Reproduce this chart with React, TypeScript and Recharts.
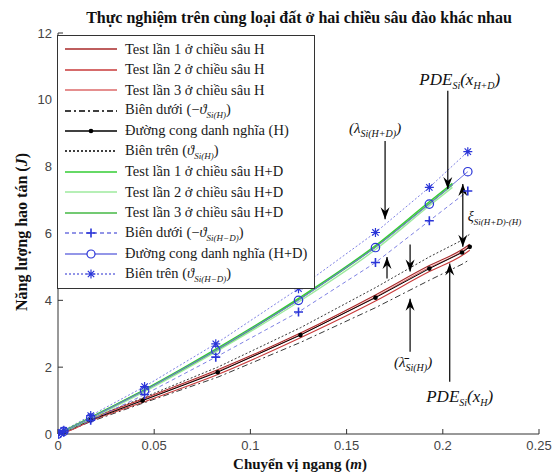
import React from 'react';
import { LineChart, Line, XAxis, YAxis, ReferenceLine } from 'recharts';

// shared x positions of the measured points
const xH = [0, 0.003, 0.017, 0.044, 0.083, 0.126, 0.165, 0.193, 0.21, 0.214];
const nomH = [0, 0.05, 0.42, 1.0, 1.85, 2.96, 4.08, 4.95, 5.43, 5.6];
const upH = [0, 0.07, 0.47, 1.08, 2.0, 3.18, 4.38, 5.3, 5.8, 5.98];
const lowH = [0, 0.03, 0.37, 0.92, 1.7, 2.74, 3.78, 4.6, 5.08, 5.22];
const test1H = [0, 0.06, 0.45, 1.05, 1.92, 3.02, 4.16, 5.04, 5.52, 5.68];
const test2H = [0, 0.04, 0.39, 0.95, 1.78, 2.88, 3.98, 4.86, 5.34, 5.5];
const test3H = [0, 0.05, 0.43, 1.02, 1.88, 2.98, 4.1, 4.98, 5.46, 5.62];

const xHD = [0, 0.003, 0.017, 0.045, 0.082, 0.125, 0.165, 0.193, 0.213];
const nomHD = [0, 0.08, 0.48, 1.3, 2.5, 4.0, 5.58, 6.88, 7.85];
const upHD = [0, 0.11, 0.55, 1.42, 2.7, 4.35, 6.03, 7.38, 8.45];
const lowHD = [0, 0.05, 0.41, 1.18, 2.3, 3.65, 5.13, 6.38, 7.27];
const xTestHD = [0, 0.003, 0.017, 0.045, 0.082, 0.125, 0.165, 0.193, 0.205];
const test1HD = [0, 0.09, 0.5, 1.33, 2.54, 4.06, 5.64, 6.95, 7.5];
const test2HD = [0, 0.07, 0.46, 1.27, 2.46, 3.95, 5.52, 6.83, 7.38];
const test3HD = [0, 0.08, 0.49, 1.31, 2.5, 4.02, 5.6, 6.9, 7.45];

const xTicks = [0, 0.05, 0.1, 0.15, 0.2, 0.25];
const yTicks = [0, 2, 4, 6, 8, 10, 12];

const pts = (xs: number[], ys: number[]) => xs.map((x, i) => ({ x, y: ys[i] }));

const BLUE = '#2a35d8';
const BLUE_LINE = '#6f73e0';

const BlackDot = (p: any) => <circle key={p.index} cx={p.cx} cy={p.cy} r={2.3} fill="#000" />;
const CircleDot = (p: any) => <circle key={p.index} cx={p.cx} cy={p.cy} r={4.2} fill="none" stroke={BLUE} strokeWidth={1.2} />;
const PlusDot = (p: any) => (
  <path key={p.index} d={`M${p.cx - 4.5},${p.cy}h9M${p.cx},${p.cy - 4.5}v9`} stroke={BLUE} strokeWidth={1.6} />
);
const StarDot = (p: any) => (
  <path
    key={p.index}
    d={`M${p.cx - 4.5},${p.cy}h9M${p.cx},${p.cy - 4.5}v9M${p.cx - 3.2},${p.cy - 3.2}l6.4,6.4M${p.cx - 3.2},${p.cy + 3.2}l6.4,-6.4`}
    stroke={BLUE}
    strokeWidth={1.2}
  />
);

const arrowHead = (tx: number, ty: number, fx: number, fy: number) => {
  const a = Math.atan2(ty - fy, tx - fx);
  const L = 12, W = 4.5, N = 8;
  const ux = Math.cos(a), uy = Math.sin(a);
  const px = -uy, py = ux;
  const bx = tx - ux * L, by = ty - uy * L;
  const nx = tx - ux * N, ny = ty - uy * N;
  return (
    <polygon
      points={`${tx},${ty} ${bx + px * W},${by + py * W} ${nx},${ny} ${bx - px * W},${by - py * W}`}
      fill="#000"
    />
  );
};

const arrow = (opts: { both?: boolean; label?: React.ReactNode; dx?: number; dy?: number; anchor?: string; size?: number }) =>
  (p: any) => {
    const { x1, y1, x2, y2 } = p;
    return (
      <g>
        <line x1={x1} y1={y1} x2={x2} y2={y2} stroke="#000" strokeWidth={1.2} />
        {arrowHead(x2, y2, x1, y1)}
        {opts.both && arrowHead(x1, y1, x2, y2)}
        {opts.label && (
          <text
            x={x1 + (opts.dx || 0)}
            y={y1 + (opts.dy || 0)}
            textAnchor={(opts.anchor as any) || 'middle'}
            fontFamily="Liberation Serif"
            fontStyle="italic"
            fontSize={opts.size || 17}
            fill="#111"
          >
            {opts.label}
          </text>
        )}
      </g>
    );
  };

const legendItems = [
  { label: <>Test lần 1 ở chiều sâu H</>, color: '#a82828' },
  { label: <>Test lần 2 ở chiều sâu H</>, color: '#c83a3a' },
  { label: <>Test lần 3 ở chiều sâu H</>, color: '#dc6a6a' },
  { label: <>Biên dưới (−<i>ϑ<sub style={{ fontSize: 9 }}>Si(H)</sub></i>)</>, color: '#000', dash: '6 3 2 3' },
  { label: <>Đường cong danh nghĩa (H)</>, color: '#000', marker: 'dot' },
  { label: <>Biên trên (<i>ϑ<sub style={{ fontSize: 9 }}>Si(H)</sub></i>)</>, color: '#000', dash: '2 2' },
  { label: <>Test lần 1 ở chiều sâu H+D</>, color: '#33cc33' },
  { label: <>Test lần 2 ở chiều sâu H+D</>, color: '#9eea9e' },
  { label: <>Test lần 3 ở chiều sâu H+D</>, color: '#45b845' },
  { label: <>Biên dưới (−<i>ϑ<sub style={{ fontSize: 9 }}>Si(H−D)</sub></i>)</>, color: BLUE_LINE, dash: '4 3', marker: 'plus' },
  { label: <>Đường cong danh nghĩa (H+D)</>, color: BLUE_LINE, marker: 'circle' },
  { label: <>Biên trên (<i>ϑ<sub style={{ fontSize: 9 }}>Si(H−D)</sub></i>)</>, color: BLUE_LINE, dash: '2 2', marker: 'star' },
];

const LegendBox = () => (
  <div
    style={{
      position: 'absolute', left: 57, top: 35, width: 258, height: 254,
      border: '1px solid #333', background: '#fff', paddingTop: 3, boxSizing: 'border-box',
      fontFamily: 'Liberation Serif', fontSize: 14.5, color: '#1a1a1a',
    }}
  >
    {legendItems.map((it: any, i) => (
      <div key={i} style={{ display: 'flex', alignItems: 'center', height: 20.45, whiteSpace: 'nowrap' }}>
        <svg width={52} height={12} style={{ marginLeft: 7, flex: 'none' }}>
          <line x1={0} y1={6} x2={52} y2={6} stroke={it.color} strokeWidth={1.3} strokeDasharray={it.dash} />
          {it.marker === 'dot' && <circle cx={26} cy={6} r={2.3} fill="#000" />}
          {it.marker === 'circle' && <circle cx={26} cy={6} r={4} fill="#fff" stroke={BLUE} strokeWidth={1.2} />}
          {it.marker === 'plus' && <path d="M21.5,6h9M26,1.5v9" stroke={BLUE} strokeWidth={1.6} />}
          {it.marker === 'star' && <path d="M21.5,6h9M26,1.5v9M22.8,2.8l6.4,6.4M22.8,9.2l6.4,-6.4" stroke={BLUE} strokeWidth={1.2} />}
        </svg>
        <span style={{ marginLeft: 8 }}>{it.label}</span>
      </div>
    ))}
  </div>
);

const tickStyle = { fontFamily: 'Liberation Sans', fontSize: 13, fill: '#444' };

const App = () => {
  return (
    <div style={{ position: 'absolute', left: 0, top: 0, width: 558, height: 474, background: '#fff' }}>
      <div
        style={{
          position: 'absolute', left: 40, top: 8, width: 518, textAlign: 'center',
          fontFamily: 'Liberation Serif', fontWeight: 'bold', fontSize: 16, lineHeight: '20px', color: '#111',
        }}
      >
        Thực nghiệm trên cùng loại đất ở hai chiều sâu đào khác nhau
      </div>
      <LineChart width={558} height={474} margin={{ top: 33, right: 19, bottom: 10, left: 28 }}>
        <XAxis
          dataKey="x" type="number" domain={[0, 0.25]} ticks={xTicks} interval={0}
          tick={tickStyle} tickSize={-5} tickMargin={12} height={30}
          stroke="#333" allowDataOverflow
        />
        <XAxis
          xAxisId="top" orientation="top" dataKey="x" type="number" domain={[0, 0.25]} ticks={xTicks}
          interval={0} tick={() => <g />} tickSize={-5} height={0} stroke="#333"
        />
        <YAxis
          type="number" domain={[0, 12]} ticks={yTicks} interval={0}
          tick={tickStyle} tickSize={-5} tickMargin={11} width={30} stroke="#333"
        />
        <YAxis
          yAxisId="right" orientation="right" type="number" domain={[0, 12]} ticks={yTicks}
          interval={0} tick={() => <g />} tickSize={-5} width={0} stroke="#333"
        />

        {/* depth H */}
        <Line data={pts(xH, lowH)} dataKey="y" stroke="#222" strokeWidth={0.9} strokeDasharray="6 3 2 3" dot={false} isAnimationActive={false} />
        <Line data={pts(xH, upH)} dataKey="y" stroke="#222" strokeWidth={0.9} strokeDasharray="2 2" dot={false} isAnimationActive={false} />
        <Line data={pts(xH, test1H)} dataKey="y" type="monotone" stroke="#a82828" strokeWidth={1.1} dot={false} isAnimationActive={false} />
        <Line data={pts(xH, test2H)} dataKey="y" type="monotone" stroke="#c83a3a" strokeWidth={1.1} dot={false} isAnimationActive={false} />
        <Line data={pts(xH, test3H)} dataKey="y" type="monotone" stroke="#dc6a6a" strokeWidth={1.1} dot={false} isAnimationActive={false} />
        <Line data={pts(xH, nomH)} dataKey="y" stroke="#000" strokeWidth={1} dot={BlackDot} isAnimationActive={false} />

        {/* depth H+D */}
        <Line data={pts(xHD, lowHD)} dataKey="y" stroke={BLUE_LINE} strokeWidth={0.9} strokeDasharray="4 3" dot={PlusDot} isAnimationActive={false} />
        <Line data={pts(xHD, upHD)} dataKey="y" stroke={BLUE_LINE} strokeWidth={0.9} strokeDasharray="2 2" dot={StarDot} isAnimationActive={false} />
        <Line data={pts(xTestHD, test1HD)} dataKey="y" type="monotone" stroke="#33cc33" strokeWidth={1.4} dot={false} isAnimationActive={false} />
        <Line data={pts(xTestHD, test2HD)} dataKey="y" type="monotone" stroke="#9eea9e" strokeWidth={1.4} dot={false} isAnimationActive={false} />
        <Line data={pts(xTestHD, test3HD)} dataKey="y" type="monotone" stroke="#45b845" strokeWidth={1.4} dot={false} isAnimationActive={false} />
        <Line data={pts(xHD, nomHD)} dataKey="y" stroke={BLUE_LINE} strokeWidth={1} dot={CircleDot} isAnimationActive={false} />

        {/* annotations */}
        <ReferenceLine
          segment={[{ x: 0.2026, y: 10.27 }, { x: 0.2026, y: 7.33 }]}
          shape={arrow({
            dx: 12, dy: -6,
            label: (
              <>
                <tspan>PDE</tspan>
                <tspan dy={4} fontSize={10}>Si</tspan>
                <tspan dy={-4}>(x</tspan>
                <tspan dy={4} fontSize={10}>H+D</tspan>
                <tspan dy={-4}>)</tspan>
              </>
            ),
          })}
        />
        <ReferenceLine
          segment={[{ x: 0.17, y: 8.77 }, { x: 0.17, y: 6.43 }]}
          shape={arrow({
            dx: -10, dy: -8, size: 15,
            label: (
              <>
                <tspan>(λ</tspan>
                <tspan dy={4} fontSize={10}>Si(H+D)</tspan>
                <tspan dy={-4}>)</tspan>
              </>
            ),
          })}
        />
        <ReferenceLine
          segment={[{ x: 0.2104, y: 7.48 }, { x: 0.2104, y: 5.6 }]}
          shape={arrow({
            both: true, dx: 5, dy: 37, anchor: 'start', size: 14,
            label: (
              <>
                <tspan>ξ</tspan>
                <tspan dy={4} fontSize={9}>Si(H+D)-(H)</tspan>
              </>
            ),
          })}
        />
        <ReferenceLine segment={[{ x: 0.171, y: 4.65 }, { x: 0.171, y: 5.3 }]} shape={arrow({})} />
        <ReferenceLine segment={[{ x: 0.183, y: 5.67 }, { x: 0.183, y: 4.86 }]} shape={arrow({})} />
        <ReferenceLine
          segment={[{ x: 0.183, y: 2.46 }, { x: 0.183, y: 4.05 }]}
          shape={arrow({
            dx: 3, dy: 15, size: 15,
            label: (
              <>
                <tspan>(λ̄</tspan>
                <tspan dy={4} fontSize={10}>Si(H)</tspan>
                <tspan dy={-4}>)</tspan>
              </>
            ),
          })}
        />
        <ReferenceLine
          segment={[{ x: 0.2036, y: 1.56 }, { x: 0.2036, y: 5.1 }]}
          shape={arrow({
            dx: 10, dy: 20,
            label: (
              <>
                <tspan>PDE</tspan>
                <tspan dy={4} fontSize={10}>Si</tspan>
                <tspan dy={-4}>(x</tspan>
                <tspan dy={4} fontSize={10}>H</tspan>
                <tspan dy={-4}>)</tspan>
              </>
            ),
          })}
        />
      </LineChart>
      <LegendBox />
      <div
        style={{
          position: 'absolute', left: 100, top: 455, width: 400, textAlign: 'center',
          fontFamily: 'Liberation Serif', fontWeight: 'bold', fontSize: 15, lineHeight: '18px', color: '#111',
        }}
      >
        Chuyển vị ngang (<i>m</i>)
      </div>
      <div
        style={{
          position: 'absolute', left: -78, top: 223, width: 200, height: 18, textAlign: 'center',
          transform: 'rotate(-90deg)', fontFamily: 'Liberation Serif', fontWeight: 'bold', fontSize: 16,
          lineHeight: '18px', color: '#111', whiteSpace: 'nowrap',
        }}
      >
        Năng lượng hao tán (<i>J</i>)
      </div>
    </div>
  );
};

export default App;
